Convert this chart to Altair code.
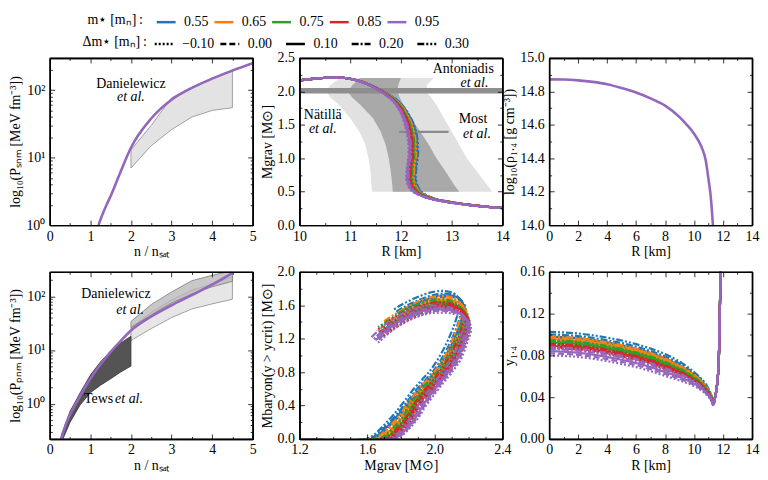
import altair as alt
import pandas as pd

FONT = "Liberation Serif"
W, H = 204, 168

# ---------------- categories / styles ----------------
MSTAR_LABELS = ["0.55", "0.65", "0.75", "0.85", "0.95"]
DMSTAR_LABELS = ["\u22120.10", "0.00", "0.10", "0.20", "0.30"]
COLORS = ["#1f77b4", "#ff7f0e", "#2ca02c", "#d62728", "#9467bd"]
DASHES = [[2, 2], [6, 3], [1, 0], [7, 2, 2, 2], [7, 2, 2, 2, 2, 2]]

# ---------------- panel 1: P_SNM ----------------
SNM_N = [1.2, 1.3, 1.4, 1.5, 1.75, 2.0, 2.5, 3.0, 3.5, 4.0, 4.5, 5.0]
SNM_P = [1.0, 1.45, 2.0, 2.7, 6.3, 14.0, 38.0, 72.0, 108.0, 148.0, 195.0, 250.0]
DAN_SNM_N = [2.0, 2.5, 3.0, 3.5, 4.0, 4.5]
DAN_SNM_LO = [7.0, 15.0, 26.0, 40.0, 50.0, 55.0]
DAN_SNM_HI = [13.0, 30.0, 77.0, 110.0, 150.0, 200.0]

# ---------------- panel 2: M-R ----------------
MR_R = [9.8, 10.0, 10.3, 10.6, 10.9, 11.2, 11.45, 11.7, 11.9, 12.07, 12.17, 12.22, 12.22,
        12.19, 12.18, 12.22, 12.3, 12.44, 12.63, 12.9, 13.2, 13.6, 14.0, 14.3]
MR_M = [2.14, 2.165, 2.19, 2.205, 2.2, 2.15, 2.07, 1.96, 1.84, 1.65, 1.44, 1.22, 1.02,
        0.85, 0.70, 0.58, 0.50, 0.44, 0.39, 0.35, 0.315, 0.28, 0.255, 0.24]
MR_W = [0, 0, 0, 0, 0, 0.1, 0.2, 0.4, 0.6, 0.8, 1, 1, 1, 1, 1, 1, 0.9, 0.7, 0.55, 0.45,
        0.35, 0.3, 0.25, 0.25]
MR_SHIFT_M = [0.09, 0.05, 0.02, -0.01, -0.05]
MR_SHIFT_D = [-0.025, -0.012, 0.0, 0.012, 0.025]
NAT_M = [0.5, 0.6, 0.8, 1.0, 1.2, 1.4, 1.6, 1.8, 1.9, 2.0, 2.1, 2.2]
NAT_OUT_L = [11.43, 11.42, 11.4, 11.36, 11.3, 11.18, 11.0, 10.78, 10.62, 10.52, 10.62, 10.8]
NAT_OUT_R = [13.8, 13.7, 13.5, 13.3, 13.15, 13.0, 12.85, 12.7, 12.6, 12.5, 12.52, 12.65]
NAT_IN_L = [11.84, 11.83, 11.8, 11.76, 11.7, 11.6, 11.45, 11.2, 11.05, 10.95, 11.05, 11.2]
NAT_IN_R = [13.15, 13.05, 12.88, 12.7, 12.55, 12.38, 12.2, 12.05, 11.98, 11.93, 11.95, 12.0]
ANT_M = [1.97, 2.05]
MOST_R = [11.96, 12.94]
MOST_M = 1.395

# ---------------- panel 3: rho_1.4 ----------------
RHO_R = [0, 1, 2, 3, 4, 5, 6, 7, 8, 9, 9.5, 10, 10.3, 10.6, 10.8, 10.97, 11.15, 11.3, 11.4]
RHO = [14.872, 14.871, 14.866, 14.857, 14.843, 14.82, 14.793, 14.758, 14.715, 14.646, 14.6,
       14.547, 14.505, 14.449, 14.39, 14.29, 14.17, 14.0, 13.85]

# ---------------- panel 4: P_PNM ----------------
PNM_N = [0.25, 0.3, 0.4, 0.5, 0.75, 1.0, 1.25, 1.5, 1.75, 2.0, 2.5, 3.0, 3.5, 4.0, 4.5]
PNM_P = [0.17, 0.24, 0.42, 0.62, 1.4, 2.9, 5.4, 9.2, 14.8, 23.0, 42.0, 68.0, 105.0, 165.0, 270.0]
TEWS_N = [0.25, 0.3, 0.5, 0.75, 1.0, 1.25, 1.5, 1.75, 2.0]
TEWS_LO = [0.15, 0.2, 0.45, 0.95, 1.6, 2.2, 2.9, 3.9, 5.0]
TEWS_HI = [0.2, 0.28, 0.72, 1.6, 3.4, 6.0, 9.5, 13.5, 18.0]
DAN_PNM_N = [2.0, 2.5, 3.0, 3.5, 4.0, 4.5]
DAN_SOFT_LO = [15.0, 25.0, 40.0, 58.0, 72.0, 88.0]
DAN_SOFT_HI = [26.0, 50.0, 85.0, 130.0, 170.0, 230.0]
DAN_STIFF_LO = [26.0, 45.0, 75.0, 110.0, 150.0, 190.0]
DAN_STIFF_HI = [34.0, 70.0, 120.0, 195.0, 245.0, 300.0]

# ---------------- panel 5: M_baryon(y>y_crit) vs M_grav (per m*) ----------------
MB_X = [
    [1.10, 1.62, 1.66, 1.72, 1.78, 1.83, 1.90, 1.96, 2.00, 2.06, 2.115, 2.15, 2.17, 2.165, 2.14, 2.10, 2.07, 2.02, 1.95, 1.88, 1.82, 1.78],
    [1.10, 1.66, 1.70, 1.76, 1.82, 1.86, 1.93, 1.99, 2.03, 2.09, 2.14, 2.17, 2.18, 2.175, 2.15, 2.11, 2.06, 2.00, 1.93, 1.86, 1.79, 1.72],
    [1.10, 1.69, 1.73, 1.79, 1.845, 1.88, 1.95, 2.01, 2.05, 2.11, 2.16, 2.185, 2.19, 2.18, 2.155, 2.11, 2.05, 1.98, 1.91, 1.83, 1.76, 1.69],
    [1.10, 1.72, 1.76, 1.815, 1.865, 1.90, 1.97, 2.025, 2.06, 2.12, 2.17, 2.19, 2.195, 2.185, 2.16, 2.11, 2.05, 1.98, 1.90, 1.82, 1.75, 1.68],
    [1.10, 1.75, 1.79, 1.845, 1.895, 1.93, 1.995, 2.045, 2.08, 2.14, 2.18, 2.195, 2.20, 2.19, 2.16, 2.10, 2.03, 1.95, 1.87, 1.79, 1.72, 1.65],
]
MB_Y = [
    [0, 0, 0.04, 0.15, 0.28, 0.40, 0.58, 0.71, 0.80, 0.98, 1.20, 1.38, 1.55, 1.63, 1.69, 1.715, 1.72, 1.71, 1.67, 1.61, 1.55, 1.50],
    [0, 0, 0.04, 0.15, 0.28, 0.40, 0.58, 0.71, 0.80, 0.98, 1.20, 1.36, 1.48, 1.56, 1.62, 1.655, 1.66, 1.645, 1.60, 1.53, 1.45, 1.36],
    [0, 0, 0.04, 0.15, 0.28, 0.40, 0.58, 0.71, 0.80, 0.98, 1.20, 1.34, 1.43, 1.51, 1.57, 1.61, 1.62, 1.60, 1.55, 1.48, 1.39, 1.30],
    [0, 0, 0.04, 0.15, 0.28, 0.40, 0.58, 0.71, 0.80, 0.98, 1.20, 1.32, 1.40, 1.47, 1.54, 1.58, 1.59, 1.57, 1.52, 1.45, 1.36, 1.26],
    [0, 0, 0.04, 0.15, 0.28, 0.40, 0.58, 0.71, 0.80, 0.98, 1.20, 1.29, 1.35, 1.42, 1.49, 1.535, 1.55, 1.54, 1.49, 1.41, 1.31, 1.18],
]
MB_DX = [0.015, 0.008, 0.0, -0.01, -0.025]
MB_SY = [0.975, 0.99, 1.0, 1.012, 1.03]

# ---------------- panel 6: y_1.4 ----------------
Y6_R = [0, 1, 2, 3, 4, 5, 6, 7, 8, 9, 10, 10.5, 10.8, 11.0, 11.2, 11.32, 11.45, 11.6, 11.71, 11.78, 11.86]
Y6_Y = [0.0910, 0.0905, 0.0895, 0.0878, 0.0855, 0.0828, 0.0795, 0.0755, 0.0706, 0.0648, 0.0572,
        0.0520, 0.0478, 0.0440, 0.0390, 0.0340, 0.0400, 0.0540, 0.0770, 0.1250, 0.1700]
Y6_W = [1, 1, 1, 1, 1, 1, 0.98, 0.96, 0.93, 0.8, 0.6, 0.5, 0.42, 0.35, 0.25, 0.2, 0.1, 0, 0, 0, 0]
Y6_OFF = [
    [0.004, 0.0055, 0.007, 0.009, 0.0115],
    [0.002, 0.003, 0.0045, 0.006, 0.007],
    [-0.0005, 0.0005, 0.0015, 0.0025, 0.0035],
    [-0.004, -0.003, -0.002, -0.001, 0.0],
    [-0.011, -0.009, -0.007, -0.005, -0.003],
]

# ---------------- helpers ----------------
LEG_COMMON = dict(
    orient="none", direction="horizontal", columns=5, symbolType="stroke", symbolSize=361,
    symbolStrokeWidth=2.5, labelFont=FONT, labelFontSize=14, labelOffset=7,
    titleFont=FONT, titleFontSize=14, titleFontWeight="normal", titleOrient="left",
    columnPadding=0, gridAlign="all", labelColor="black", titleColor="black",
)
COLOR_ENC = alt.Color(
    "mstar:N",
    scale=alt.Scale(domain=MSTAR_LABELS, range=COLORS),
    legend=alt.Legend(title="m\u22c6\u2009[m\u2099]\u2009:", legendX=38, legendY=-47,
                      titlePadding=12, **LEG_COMMON),
)
DASH_ENC = alt.StrokeDash(
    "dm:N",
    scale=alt.Scale(domain=DMSTAR_LABELS, range=DASHES),
    legend=alt.Legend(title="\u0394m\u22c6\u2009[m\u2099]\u2009:", legendX=33, legendY=-25,
                      titlePadding=6, symbolStrokeColor="black", **LEG_COMMON),
)


def label_axes(xvals, xfmt, xtitle, yvals, yfmt, ytitle, ylabelexpr=None):
    ax = alt.Axis(orient="bottom", values=xvals, format=xfmt, ticks=False, domain=False,
                  labelPadding=4, labelFlush=False, labelOverlap=False, title=xtitle,
                  titlePadding=2)
    kw = dict(orient="left", values=yvals, ticks=False, domain=False, labelPadding=5,
              labelFlush=False, labelOverlap=False, title=ytitle, titlePadding=3)
    if ylabelexpr:
        kw["labelExpr"] = ylabelexpr
    else:
        kw["format"] = yfmt
    ay = alt.Axis(**kw)
    return ax, ay


def frame_layers(xs, ys, x0, y0, xmaj, xmin, ymaj, ymin):
    df = pd.DataFrame({"fx": [x0], "fy": [y0]})
    out = []
    for xo, yo in (("top", "right"), ("bottom", "left")):
        for vx, vy, size in ((xmaj, ymaj, 5), (xmin, ymin, 2.5)):
            common = dict(tickSize=size, tickWidth=0.8, tickColor="black", labels=False,
                          domain=True, domainColor="black", domainWidth=1.4, grid=False,
                          title=None, zindex=2)
            ax = alt.Axis(orient=xo, offset=-H, values=vx, **common)
            ay = alt.Axis(orient=yo, offset=-W, values=vy, **common)
            out.append(alt.Chart(df).mark_point(opacity=0, size=1).encode(
                x=alt.X("fx:Q", scale=xs, axis=ax), y=alt.Y("fy:Q", scale=ys, axis=ay)))
    return out


def texts(items, xs, ys):
    out = []
    for s, x, y, style, align in items:
        df = pd.DataFrame({"tx": [x], "ty": [y], "t": [s]})
        out.append(alt.Chart(df).mark_text(font=FONT, fontSize=14, fontStyle=style,
                                           align=align, baseline="middle", color="black").encode(
            x=alt.X("tx:Q", scale=xs, axis=None), y=alt.Y("ty:Q", scale=ys, axis=None),
            text="t:N"))
    return out


def curve_layers(df, xs, ys, ax, ay, interp):
    out = []
    for lab in MSTAR_LABELS:
        out.append(alt.Chart(df).transform_filter(alt.datum.mstar == lab).mark_line(
            strokeWidth=2.2, clip=True, interpolate=interp).encode(
            x=alt.X("x:Q", scale=xs, axis=ax), y=alt.Y("y:Q", scale=ys, axis=ay),
            color=COLOR_ENC, strokeDash=DASH_ENC, order="k:Q"))
        ax = None
        ay = None
    return out


def panel(layers):
    return alt.layer(*layers).resolve_axis(x="independent", y="independent").properties(
        width=W, height=H)


def minor(lo, hi, step, major_step):
    vals = []
    n = int(round((hi - lo) / step))
    for i in range(n + 1):
        v = round(lo + i * step, 6)
        r = v / major_step
        if abs(r - round(r)) > 1e-6:
            vals.append(v)
    return vals


def rng(lo, hi, step):
    n = int(round((hi - lo) / step))
    return [round(lo + i * step, 6) for i in range(n + 1)]


LOG_EXPR = "datum.value == 1 ? '10\u2070' : datum.value == 10 ? '10\u00b9' : '10\u00b2'"
LOG_MAJ = [1, 10, 100]

# ================= panel 1 =================
xs1 = alt.Scale(domain=[0, 5], nice=False, zero=False)
ys1 = alt.Scale(type="log", domain=[1, 300], nice=False)
ax1, ay1 = label_axes(rng(0, 5, 1), "d", "n / n\u209b\u2090\u209c", LOG_MAJ, "",
                      "log\u2081\u2080(P\u209b\u2099\u2098 [MeV fm\u207b\u00b3])", LOG_EXPR)
df_dan1 = pd.DataFrame({"x": DAN_SNM_N, "lo": DAN_SNM_LO, "hi": DAN_SNM_HI})
df_snm = pd.DataFrame({"x": SNM_N, "y": SNM_P})
l1 = [
    alt.Chart(df_dan1).mark_area(fill="#e3e3e3", stroke="#8c8c8c", strokeWidth=0.8, clip=True).encode(
        x=alt.X("x:Q", scale=xs1, axis=None), y=alt.Y("lo:Q", scale=ys1, axis=None), y2="hi:Q"),
    alt.Chart(df_snm).mark_line(color=COLORS[4], strokeWidth=2.6, clip=True, interpolate="monotone").encode(
        x=alt.X("x:Q", scale=xs1, axis=ax1), y=alt.Y("y:Q", scale=ys1, axis=ay1)),
]
l1 += texts([("Danielewicz", 2.0, 125, "normal", "center"), ("et al.", 2.0, 78, "italic", "center")], xs1, ys1)
l1 += frame_layers(xs1, ys1, 0, 1, rng(0, 5, 1), minor(0, 5, 0.5, 1), LOG_MAJ,
                   [2, 3, 4, 5, 6, 7, 8, 9, 20, 30, 40, 50, 60, 70, 80, 90, 200])
p1 = panel(l1)

# ================= panel 2 =================
xs2 = alt.Scale(domain=[10, 14], nice=False, zero=False)
ys2 = alt.Scale(domain=[0, 2.5], nice=False, zero=False)
ax2, ay2 = label_axes(rng(10, 14, 1), "d", "R [km]", rng(0, 2.5, 0.5), ".1f", "Mgrav [M\u2299]")
df_nat = pd.DataFrame({"m": NAT_M, "ol": NAT_OUT_L, "or": NAT_OUT_R, "il": NAT_IN_L, "ir": NAT_IN_R})
df_ant = pd.DataFrame({"x": [10], "x2": [14], "y": [ANT_M[0]], "y2": [ANT_M[1]]})
df_most = pd.DataFrame({"x": [MOST_R[0]], "x2": [MOST_R[1]], "y": [MOST_M]})
rows = []
for i, ml in enumerate(MSTAR_LABELS):
    for j, dl in enumerate(DMSTAR_LABELS):
        for k in range(len(MR_R)):
            rows.append({"mstar": ml, "dm": dl, "k": k,
                         "x": MR_R[k] + (MR_SHIFT_M[i] + MR_SHIFT_D[j]) * MR_W[k], "y": MR_M[k]})
df_mr = pd.DataFrame(rows)
l2 = [
    alt.Chart(df_nat).mark_area(orient="horizontal", fill="#e1e1e1", clip=True).encode(
        y=alt.Y("m:Q", scale=ys2, axis=None), x=alt.X("ol:Q", scale=xs2, axis=None), x2="or:Q"),
    alt.Chart(df_nat).mark_area(orient="horizontal", fill="#a9a9a9", clip=True).encode(
        y=alt.Y("m:Q", scale=ys2, axis=None), x=alt.X("il:Q", scale=xs2, axis=None), x2="ir:Q"),
    alt.Chart(df_ant).mark_rect(fill="#8e8e8e", clip=True).encode(
        x=alt.X("x:Q", scale=xs2, axis=None), x2="x2:Q", y=alt.Y("y:Q", scale=ys2, axis=None), y2="y2:Q"),
    alt.Chart(df_most).mark_rule(color="#8a8a8a", strokeWidth=2.2).encode(
        x=alt.X("x:Q", scale=xs2, axis=None), x2="x2:Q", y=alt.Y("y:Q", scale=ys2, axis=None)),
]
l2 += texts([("Antoniadis", 13.23, 2.34, "normal", "center"), ("et al.", 13.45, 2.12, "italic", "center"),
             ("N\u00e4till\u00e4", 10.46, 1.65, "normal", "center"), ("et al.", 10.46, 1.43, "italic", "center"),
             ("Most", 13.42, 1.58, "normal", "center"), ("et al.", 13.5, 1.36, "italic", "center")], xs2, ys2)
l2 += curve_layers(df_mr, xs2, ys2, ax2, ay2, "catmull-rom")
l2 += frame_layers(xs2, ys2, 10, 0, rng(10, 14, 1), minor(10, 14, 0.5, 1), rng(0, 2.5, 0.5), minor(0, 2.5, 0.25, 0.5))
p2 = panel(l2)

# ================= panel 3 =================
xs3 = alt.Scale(domain=[0, 14], nice=False, zero=False)
ys3 = alt.Scale(domain=[14.0, 15.0], nice=False, zero=False)
ax3, ay3 = label_axes(rng(0, 14, 2), "d", "R [km]", rng(14.0, 15.0, 0.2), ".1f",
                      "log\u2081\u2080(\u03c1\u2081.\u2084 [g cm\u207b\u00b3])")
df_rho = pd.DataFrame({"x": RHO_R, "y": RHO})
l3 = [alt.Chart(df_rho).mark_line(color=COLORS[4], strokeWidth=2.6, clip=True, interpolate="monotone").encode(
    x=alt.X("x:Q", scale=xs3, axis=ax3), y=alt.Y("y:Q", scale=ys3, axis=ay3))]
l3 += frame_layers(xs3, ys3, 0, 14.0, rng(0, 14, 2), minor(0, 14, 1, 2), rng(14.0, 15.0, 0.2), minor(14.0, 15.0, 0.1, 0.2))
p3 = panel(l3)

# ================= panel 4 =================
xs4 = alt.Scale(domain=[0, 5], nice=False, zero=False)
ys4 = alt.Scale(type="log", domain=[0.22, 285], nice=False)
ax4, ay4 = label_axes(rng(0, 5, 1), "d", "n / n\u209b\u2090\u209c", LOG_MAJ, "",
                      "log\u2081\u2080(P\u209a\u2099\u2098 [MeV fm\u207b\u00b3])", LOG_EXPR)
df_tews = pd.DataFrame({"x": TEWS_N, "lo": TEWS_LO, "hi": TEWS_HI})
df_dan4 = pd.DataFrame({"x": DAN_PNM_N, "slo": DAN_SOFT_LO, "shi": DAN_SOFT_HI,
                        "tlo": DAN_STIFF_LO, "thi": DAN_STIFF_HI})
df_pnm = pd.DataFrame({"x": PNM_N, "y": PNM_P})
l4 = [
    alt.Chart(df_dan4).mark_area(fill="#e6e6e6", stroke="#8c8c8c", strokeWidth=0.8, clip=True).encode(
        x=alt.X("x:Q", scale=xs4, axis=None), y=alt.Y("slo:Q", scale=ys4, axis=None), y2="shi:Q"),
    alt.Chart(df_dan4).mark_area(fill="#b5b5b5", fillOpacity=0.75, stroke="#7a7a7a", strokeWidth=0.8, clip=True).encode(
        x=alt.X("x:Q", scale=xs4, axis=None), y=alt.Y("tlo:Q", scale=ys4, axis=None), y2="thi:Q"),
    alt.Chart(df_tews).mark_area(fill="#545454", stroke="#333333", strokeWidth=0.8, clip=True).encode(
        x=alt.X("x:Q", scale=xs4, axis=None), y=alt.Y("lo:Q", scale=ys4, axis=None), y2="hi:Q"),
    alt.Chart(df_pnm).mark_line(color=COLORS[4], strokeWidth=2.6, clip=True, interpolate="monotone").encode(
        x=alt.X("x:Q", scale=xs4, axis=ax4), y=alt.Y("y:Q", scale=ys4, axis=ay4)),
]
l4 += texts([("Danielewicz", 1.63, 110, "normal", "center"), ("et al.", 1.98, 55, "italic", "center"),
             ("Tews", 1.56, 1.22, "normal", "right"), ("et al.", 1.61, 1.22, "italic", "left")], xs4, ys4)
l4 += frame_layers(xs4, ys4, 0, 1, rng(0, 5, 1), minor(0, 5, 0.5, 1), LOG_MAJ,
                   [0.3, 0.4, 0.5, 0.6, 0.7, 0.8, 0.9, 2, 3, 4, 5, 6, 7, 8, 9, 20, 30, 40, 50, 60, 70, 80, 90, 200])
p4 = panel(l4)

# ================= panel 5 =================
xs5 = alt.Scale(domain=[1.2, 2.4], nice=False, zero=False)
ys5 = alt.Scale(domain=[0, 2.0], nice=False, zero=False)
ax5, ay5 = label_axes(rng(1.2, 2.4, 0.4), ".1f", "Mgrav [M\u2299]", rng(0, 2.0, 0.4), ".1f",
                      "Mbaryon(y > ycrit) [M\u2299]")
rows = []
for i, ml in enumerate(MSTAR_LABELS):
    for j, dl in enumerate(DMSTAR_LABELS):
        for k in range(len(MB_X[i])):
            rows.append({"mstar": ml, "dm": dl, "k": k,
                         "x": MB_X[i][k] + MB_DX[j], "y": MB_Y[i][k] * MB_SY[j]})
df_mb = pd.DataFrame(rows)
l5 = curve_layers(df_mb, xs5, ys5, ax5, ay5, "catmull-rom")
l5 += frame_layers(xs5, ys5, 1.2, 0, rng(1.2, 2.4, 0.4), minor(1.2, 2.4, 0.1, 0.4), rng(0, 2.0, 0.4), minor(0, 2.0, 0.2, 0.4))
p5 = panel(l5)

# ================= panel 6 =================
xs6 = alt.Scale(domain=[0, 14], nice=False, zero=False)
ys6 = alt.Scale(domain=[0, 0.16], nice=False, zero=False)
ax6, ay6 = label_axes(rng(0, 14, 2), "d", "R [km]", rng(0, 0.16, 0.04), ".2f", "y\u2081.\u2084")
rows = []
for i, ml in enumerate(MSTAR_LABELS):
    for j, dl in enumerate(DMSTAR_LABELS):
        for k in range(len(Y6_R)):
            rows.append({"mstar": ml, "dm": dl, "k": k, "x": Y6_R[k],
                         "y": Y6_Y[k] + Y6_OFF[i][j] * Y6_W[k]})
df_y6 = pd.DataFrame(rows)
l6 = curve_layers(df_y6, xs6, ys6, ax6, ay6, "monotone")
l6 += frame_layers(xs6, ys6, 0, 0, rng(0, 14, 2), minor(0, 14, 1, 2), rng(0, 0.16, 0.04), minor(0, 0.16, 0.02, 0.04))
p6 = panel(l6)

chart = alt.ConcatChart(
    concat=[p1, p2, p3, p4, p5, p6], columns=3, spacing={"row": 47, "column": 47}, bounds="flush",
).properties(
    padding={"left": 0, "top": 2, "right": 0, "bottom": 0}
).configure_view(stroke="black", strokeWidth=1.1).configure_axis(
    labelFont=FONT, titleFont=FONT, labelFontSize=14, titleFontSize=14, titleFontWeight="normal",
    labelColor="black", titleColor="black", grid=False,
).configure_text(font=FONT)

chart.save("out.html", embed_options={"renderer": "svg", "actions": False})
